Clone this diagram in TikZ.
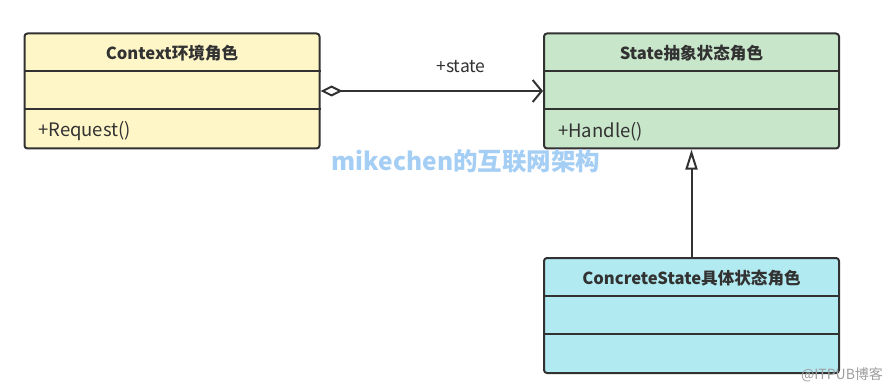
\documentclass[tikz,border=0pt]{standalone}
\usepackage{fontspec}
\setmainfont{Noto Sans CJK SC}
\usetikzlibrary{arrows.meta,positioning}
\definecolor{ctxfill}{RGB}{255,246,200}
\definecolor{statefill}{RGB}{200,230,202}
\definecolor{concfill}{RGB}{178,234,242}
\definecolor{edge}{RGB}{50,50,50}
\definecolor{wmblue}{RGB}{165,206,245}
\tikzset{
  cls/.style={rectangle,rounded corners=3pt,draw=edge,line width=2pt,
              minimum width=295pt,minimum height=115pt,inner sep=0pt},
  ttl/.style={font=\fontsize{16.6}{19}\selectfont\bfseries,text=edge},
  mth/.style={font=\fontsize{18.5}{21}\selectfont,text=edge,anchor=west,inner sep=0pt},
  sep/.style={draw=edge,line width=2pt},
}

\begin{document}
\begin{tikzpicture}[x=1pt,y=-1pt,
    agg/.style={{Diamond[open,length=22pt,width=11pt]}-{Straight Barb[length=9pt,width=22pt]},
                line width=2pt,draw=edge},
    inh/.style={-{Triangle[open,length=20pt,width=12pt]},line width=2pt,draw=edge},
  ]
  \fill[white] (0,0) rectangle (890,390);
  \useasboundingbox (0,0) rectangle (890,390);

  % -- class boxes
  \node[cls,fill=ctxfill]   (ctx)   at (172,91)    {};
  \node[cls,fill=statefill] (state) at (691.5,91)  {};
  \node[cls,fill=concfill]  (conc)  at (691.5,315.5) {};

  % -- compartments
  \foreach \b in {ctx,state,conc}{
    \draw[sep] ([yshift=-39pt]\b.north west) -- ([yshift=-39pt]\b.north east);
    \draw[sep] ([yshift=-77pt]\b.north west) -- ([yshift=-77pt]\b.north east);
  }

  % -- titles and methods
  \node[ttl] (ctxT)   at (172,53.5)    {Context环境角色};
  \node[ttl] (stateT) at (691.5,53.5)  {State抽象状态角色};
  \node[ttl] (concT)  at (691.5,278)   {ConcreteState具体状态角色};
  \node[mth] (ctxM)   at (38,131.5)    {+Request()};
  \node[mth] (stateM) at (558,131.5)   {+Handle()};

  % -- relations
  \draw[agg] (ctx.east) -- (state.west);
  \node[font=\fontsize{17.5}{20}\selectfont,text=edge] (role) at (461,67) {+state};
  \draw[inh] (conc.north) -- (state.south);

  % -- watermarks
  \node[font=\fontsize{24.5}{28}\selectfont\bfseries,text=wmblue] (wm) at (466,161)
    {mikechen的互联网架构};
  \node[font=\fontsize{14}{16}\selectfont,text=gray!75] (src) at (842,375) {@ITPUB博客};
\end{tikzpicture}
\end{document}
